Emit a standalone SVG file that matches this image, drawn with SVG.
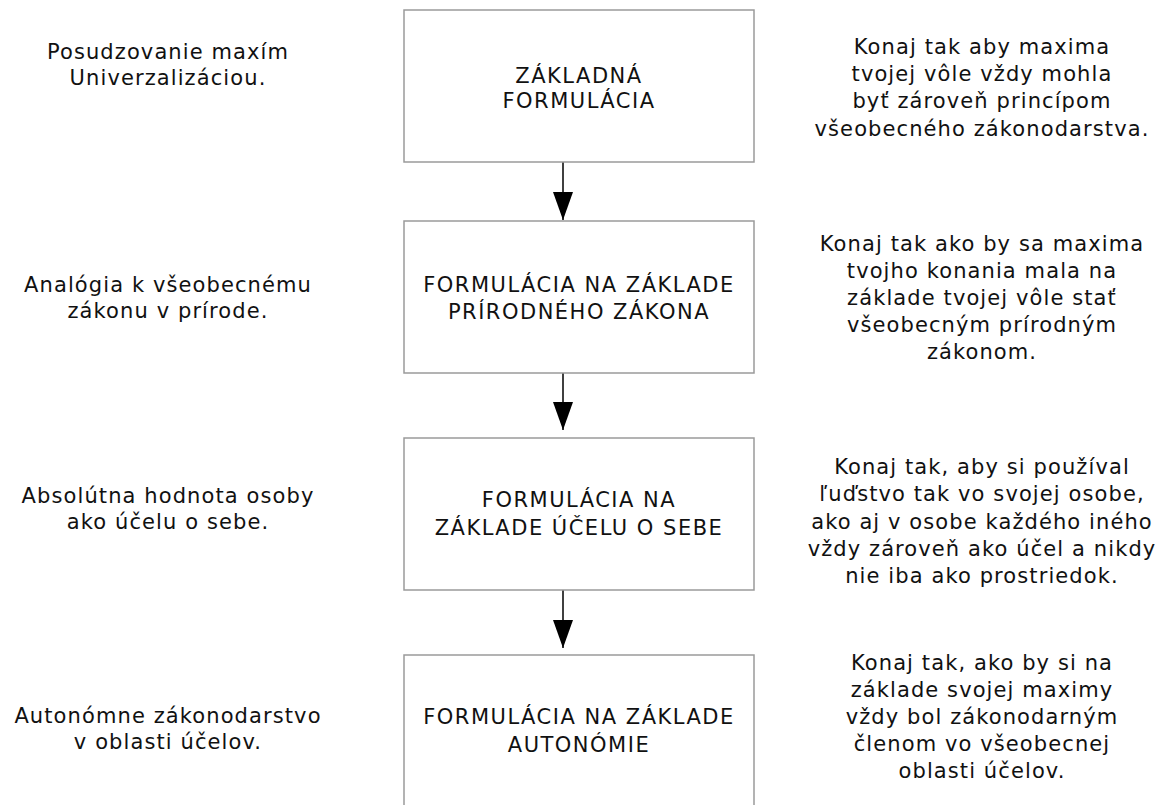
<svg xmlns="http://www.w3.org/2000/svg" width="1163" height="805" viewBox="0 0 1163 805">
<style>
.box{fill:#ffffff;stroke:#9a9a9a;stroke-width:1.5}
.bt{font-family:"DejaVu Sans",Verdana,sans-serif;font-size:21px;letter-spacing:1.5px;fill:#111;text-anchor:middle}
.st{font-family:"DejaVu Sans",Verdana,sans-serif;font-size:21px;letter-spacing:1.1px;fill:#111;text-anchor:middle}
.conn{stroke:#000;stroke-width:1.5;fill:none}
</style>
<defs>
<marker id="ah" markerUnits="userSpaceOnUse" markerWidth="28" markerHeight="20" refX="28" refY="10" orient="auto">
<path d="M0,0 L28,10 L0,20 Z" fill="#000"/>
</marker>
</defs>
<rect width="1163" height="805" fill="#ffffff"/>
<g id="connectors">
<line class="conn" x1="563" y1="162" x2="563" y2="220" marker-end="url(#ah)"/>
<line class="conn" x1="563" y1="373" x2="563" y2="430" marker-end="url(#ah)"/>
<line class="conn" x1="563" y1="590" x2="563" y2="648" marker-end="url(#ah)"/>
</g>
<g id="node1">
<rect class="box" x="404" y="10" width="350" height="152"/>
<text class="bt" x="579" y="83">ZÁKLADNÁ</text>
<text class="bt" x="579" y="108">FORMULÁCIA</text>
</g>
<g id="node2">
<rect class="box" x="404" y="221" width="350" height="152"/>
<text class="bt" x="579" y="292">FORMULÁCIA NA ZÁKLADE</text>
<text class="bt" x="579" y="319">PRÍRODNÉHO ZÁKONA</text>
</g>
<g id="node3">
<rect class="box" x="404" y="438" width="350" height="152"/>
<text class="bt" x="579" y="507">FORMULÁCIA NA</text>
<text class="bt" x="579" y="535">ZÁKLADE ÚČELU O SEBE</text>
</g>
<g id="node4">
<rect class="box" x="404" y="655" width="350" height="160"/>
<text class="bt" x="579" y="724">FORMULÁCIA NA ZÁKLADE</text>
<text class="bt" x="579" y="752">AUTONÓMIE</text>
</g>
<g id="left1">
<text class="st" x="168" y="59">Posudzovanie maxím</text>
<text class="st" x="168" y="85">Univerzalizáciou.</text>
</g>
<g id="left2">
<text class="st" x="168" y="292">Analógia k všeobecnému</text>
<text class="st" x="168" y="318">zákonu v prírode.</text>
</g>
<g id="left3">
<text class="st" x="168" y="503">Absolútna hodnota osoby</text>
<text class="st" x="168" y="529">ako účelu o sebe.</text>
</g>
<g id="left4">
<text class="st" x="168" y="723">Autonómne zákonodarstvo</text>
<text class="st" x="168" y="749">v oblasti účelov.</text>
</g>
<g id="right1">
<text class="st" x="982" y="54">Konaj tak aby maxima</text>
<text class="st" x="982" y="81">tvojej vôle vždy mohla</text>
<text class="st" x="982" y="108">byť zároveň princípom</text>
<text class="st" x="982" y="136">všeobecného zákonodarstva.</text>
</g>
<g id="right2">
<text class="st" x="982" y="251">Konaj tak ako by sa maxima</text>
<text class="st" x="982" y="278">tvojho konania mala na</text>
<text class="st" x="982" y="305">základe tvojej vôle stať</text>
<text class="st" x="982" y="332">všeobecným prírodným</text>
<text class="st" x="982" y="359">zákonom.</text>
</g>
<g id="right3">
<text class="st" x="982" y="474">Konaj tak, aby si používal</text>
<text class="st" x="982" y="501">ľuďstvo tak vo svojej osobe,</text>
<text class="st" x="982" y="529">ako aj v osobe každého iného</text>
<text class="st" x="982" y="556">vždy zároveň ako účel a nikdy</text>
<text class="st" x="982" y="583">nie iba ako prostriedok.</text>
</g>
<g id="right4">
<text class="st" x="982" y="670">Konaj tak, ako by si na</text>
<text class="st" x="982" y="697">základe svojej maximy</text>
<text class="st" x="982" y="724">vždy bol zákonodarným</text>
<text class="st" x="982" y="751">členom vo všeobecnej</text>
<text class="st" x="982" y="778">oblasti účelov.</text>
</g>
</svg>
